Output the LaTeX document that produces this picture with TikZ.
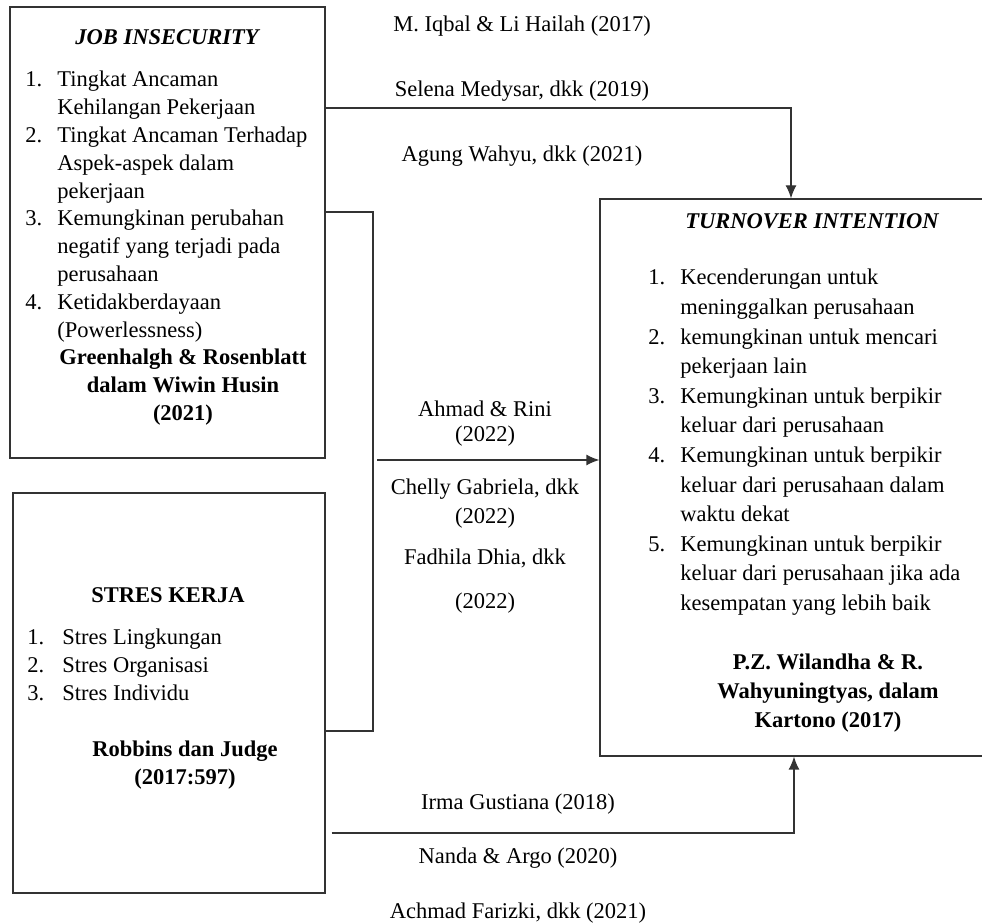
\documentclass[tikz,border=0pt]{standalone}
\usepackage{fontspec}
\setmainfont{Liberation Serif}
\usetikzlibrary{arrows.meta,fit}

\tikzset{
  box/.style={draw=black!80, line width=0.65pt, inner sep=0pt},
  link/.style={draw=black!80, line width=0.65pt},
  tip/.style={-{Latex[length=6.5pt,width=5.5pt]}},
  lbl/.style={anchor=base, inner sep=0pt, font=\fontsize{11.25}{13.9}\selectfont},
  head/.style={lbl, font=\fontsize{11.25}{13.9}\selectfont\bfseries},
  headit/.style={lbl, font=\fontsize{11.25}{13.9}\selectfont\bfseries\itshape},
  list/.style={anchor=base west, inner sep=0pt, font=\fontsize{11.25}{13.9}\selectfont},
}

\begin{document}
\begin{tikzpicture}[x=0.5pt,y=-0.5pt]
  \useasboundingbox (0,0) rectangle (982,924);

  % boxes
  \node[box, fit={(10,7) (325,458)}] (ji) {};
  \node[box, fit={(13,493) (325,893)}] (sk) {};
  \node[box, fit={(600,199) (1000,756)}] (ti) {};

  % job insecurity
  \node[headit] (jititle) at (167,44.5) {JOB INSECURITY};
  \node[list] (jilist) at (25,87) {\begin{tabular}[t]{@{}p{16pt}@{}l@{}}
    1. & Tingkat Ancaman\\
       & Kehilangan Pekerjaan\\
    2. & Tingkat Ancaman Terhadap\\
       & Aspek-aspek dalam\\
       & pekerjaan\\
    3. & Kemungkinan perubahan\\
       & negatif yang terjadi pada\\
       & perusahaan\\
    4. & Ketidakberdayaan\\
       & (Powerlessness)
  \end{tabular}};
  \node[head] (jisrc) at (183,365) {\begin{tabular}[t]{@{}c@{}}
    Greenhalgh \& Rosenblatt\\ dalam Wiwin Husin\\ (2021)
  \end{tabular}};

  % stres kerja
  \node[head] (sktitle) at (168,602.5) {STRES KERJA};
  \node[list] (sklist) at (27,645) {\begin{tabular}[t]{@{}p{17.5pt}@{}l@{}}
    1. & Stres Lingkungan\\
    2. & Stres Organisasi\\
    3. & Stres Individu
  \end{tabular}};
  \node[head] (sksrc) at (185,757) {\begin{tabular}[t]{@{}c@{}}
    Robbins dan Judge\\ (2017:597)
  \end{tabular}};

  % turnover intention
  \node[headit] (tititle) at (812,228.5) {TURNOVER INTENTION};
  \node[list, font=\fontsize{11.25}{14.8}\selectfont] (tilist) at (648,285) {\begin{tabular}[t]{@{}p{16pt}@{}l@{}}
    1. & Kecenderungan untuk\\
       & meninggalkan perusahaan\\
    2. & kemungkinan untuk mencari\\
       & pekerjaan lain\\
    3. & Kemungkinan untuk berpikir\\
       & keluar dari perusahaan\\
    4. & Kemungkinan untuk berpikir\\
       & keluar dari perusahaan dalam\\
       & waktu dekat\\
    5. & Kemungkinan untuk berpikir\\
       & keluar dari perusahaan jika ada\\
       & kesempatan yang lebih baik
  \end{tabular}};
  \node[head, font=\fontsize{11.25}{14.5}\selectfont\bfseries] (tisrc) at (828,670) {\begin{tabular}[t]{@{}c@{}}
    P.Z. Wilandha \& R.\\ Wahyuningtyas, dalam\\ Kartono (2017)
  \end{tabular}};

  % references on the links
  \node[lbl] (ref1) at (522,32) {M. Iqbal \& Li Hailah (2017)};
  \node[lbl] (ref2) at (522,97) {Selena Medysar, dkk (2019)};
  \node[lbl] (ref3) at (522,162) {Agung Wahyu, dkk (2021)};
  \node[lbl] (ref4) at (485,417) {Ahmad \& Rini};
  \node[lbl] (ref4y) at (485,442) {(2022)};
  \node[lbl] (ref5) at (485,495) {Chelly Gabriela, dkk};
  \node[lbl] (ref5y) at (485,524) {(2022)};
  \node[lbl] (ref6) at (485,565) {Fadhila Dhia, dkk};
  \node[lbl] (ref6y) at (485,609) {(2022)};
  \node[lbl] (ref7) at (518,810) {Irma Gustiana (2018)};
  \node[lbl] (ref8) at (518,864) {Nanda \& Argo (2020)};
  \node[lbl] (ref9) at (518,919) {Achmad Farizki, dkk (2021)};

  % links
  \coordinate (topbend) at (791,108);
  \coordinate (jtop) at (373,212);
  \coordinate (jbot) at (373,731);
  \coordinate (mid) at (377,460);
  \coordinate (lowbend) at (794,833);

  \draw[link, tip] (ji.east |- topbend) -- (topbend) -- (topbend |- ti.north);
  \draw[link] (ji.east |- jtop) -- (jtop) -- (jbot) -- (sk.east |- jbot);
  \draw[link, tip] (mid) -- (mid -| ti.west);
  \draw[link, tip] ([xshift=3pt]sk.east |- lowbend) -- (lowbend) -- (lowbend |- ti.south);

\end{tikzpicture}
\end{document}
